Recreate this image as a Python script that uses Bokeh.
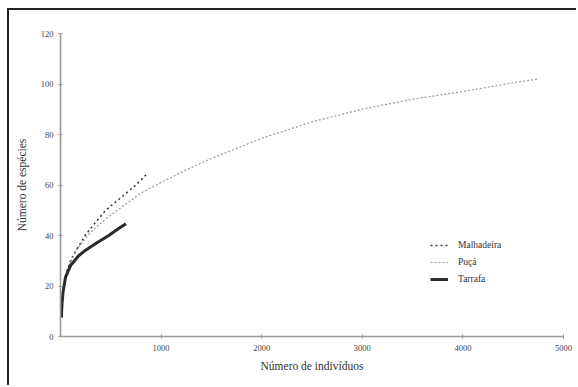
from bokeh.plotting import figure
from bokeh.models import FixedTicker, Legend, LegendItem, Range1d
from bokeh.embed import file_html
from bokeh.resources import INLINE

# Data
malhadeira_n = [10, 30, 60, 100, 150, 200, 250, 350, 450, 600, 750, 850]
malhadeira_s = [8, 19, 25.5, 30, 33.8, 37, 40.3, 45.3, 50, 55, 60, 64]

puca_n = [10, 30, 60, 100, 150, 200, 300, 450, 600, 800, 1000, 1250, 1500,
          1750, 2000, 2500, 3000, 3500, 4000, 4500, 4750]
puca_s = [8, 19, 25, 29.5, 33.5, 36.5, 41.3, 46.6, 51, 56.8, 61, 66, 70.5,
          74.5, 78.5, 85, 90, 94, 97, 100.5, 102]

tarrafa_n = [8, 15, 25, 50, 100, 180, 250, 350, 480, 560, 650]
tarrafa_s = [7.5, 13, 17.5, 23.5, 28.1, 32, 34.2, 36.8, 40, 42.3, 44.7]

x_ticks = [1000, 2000, 3000, 4000, 5000]
y_ticks = [0, 20, 40, 60, 80, 100, 120]

FONT = "Liberation Serif"

p = figure(width=569, height=377, output_backend="svg", toolbar_location=None,
           x_range=Range1d(0, 5000), y_range=Range1d(0, 120),
           min_border_left=51, min_border_right=15, min_border_top=23,
           min_border_bottom=51)
p.styles = {"margin-left": "7px", "margin-top": "8px",
            "border-left": "2px solid #222", "border-top": "2px solid #222"}
p.outline_line_color = None
p.grid.visible = False
p.background_fill_color = "white"
p.border_fill_color = "white"

r_m = p.line(malhadeira_n, malhadeira_s, line_color="#3a3a3a", line_width=1.6,
             line_dash="2 3")
r_p = p.line(puca_n, puca_s, line_color="#9a9a9a", line_width=1.2,
             line_dash="2 2")
r_t = p.line(tarrafa_n, tarrafa_s, line_color="#2a2a2a", line_width=3.0)

p.xaxis.ticker = FixedTicker(ticks=x_ticks)
p.yaxis.ticker = FixedTicker(ticks=y_ticks)
for ax in (p.xaxis[0], p.yaxis[0]):
    ax.axis_line_color = "#9a9a9a"
    ax.axis_line_width = 1.6
    ax.major_tick_line_color = "#9a9a9a"
    ax.major_tick_in = 2
    ax.major_tick_out = 2
    ax.minor_tick_line_color = None
    ax.major_label_text_font = FONT
    ax.major_label_text_font_size = "8.5px"
    ax.major_label_text_color = "#444444"
    ax.axis_label_text_font = FONT
    ax.axis_label_text_font_size = "11.5px"
    ax.axis_label_text_font_style = "normal"
    ax.axis_label_text_color = "#333333"

p.xaxis.axis_label = "Número de indivíduos"
p.yaxis.axis_label = "Número de espécies"
p.xaxis.major_label_standoff = 6
p.yaxis.major_label_standoff = 5
p.xaxis.axis_label_standoff = 6
p.yaxis.axis_label_standoff = 10

legend = Legend(items=[LegendItem(label="Malhadeira", renderers=[r_m]),
                       LegendItem(label="Puçá", renderers=[r_p]),
                       LegendItem(label="Tarrafa", renderers=[r_t])],
                location=(370, 50))
legend.border_line_color = None
legend.background_fill_alpha = 0
legend.label_text_font = FONT
legend.label_text_font_size = "9.5px"
legend.label_text_color = "#333333"
legend.glyph_width = 18
legend.glyph_height = 14
legend.label_height = 14
legend.label_standoff = 10
legend.spacing = 3
legend.padding = 0
legend.margin = 0
p.add_layout(legend, "center")

open("out.html", "w").write(file_html(p, INLINE))
